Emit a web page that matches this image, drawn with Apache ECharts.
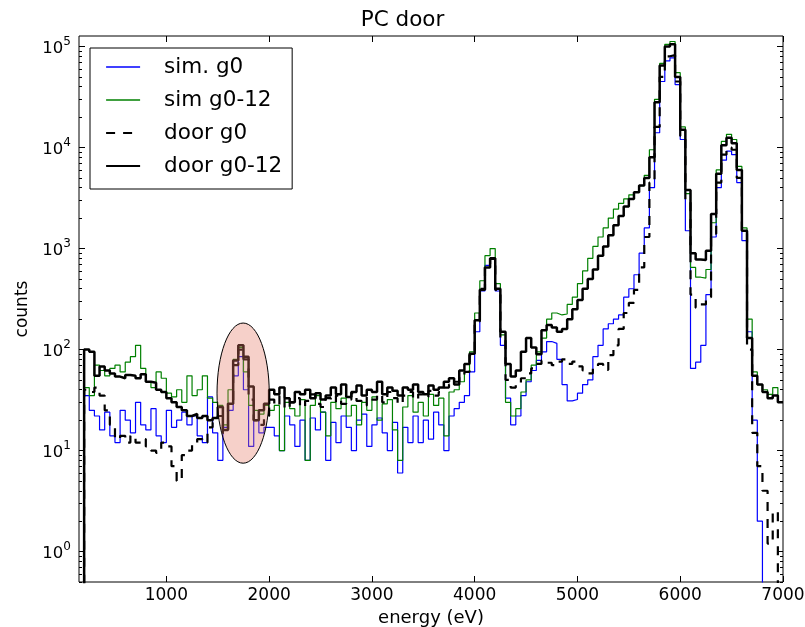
<!DOCTYPE html>
<html><head><meta charset="utf-8">
<script src="https://cdn.jsdelivr.net/npm/echarts@6/dist/echarts.min.js"></script>
<style>html,body{margin:0;padding:0;background:#fff}#c{width:805px;height:627px}</style>
</head><body><div id="c"></div>
<script>
// ---- data (counts per 50 eV bin, bin start energies in eV) ----
const binStart = [200,250,300,350,400,450,500,550,600,650,700,750,800,850,900,950,1000,1050,1100,1150,
1200,1250,1300,1350,1400,1450,1500,1550,1600,1650,1700,1750,1800,1850,1900,1950,2000,2050,2100,2150,
2200,2250,2300,2350,2400,2450,2500,2550,2600,2650,2700,2750,2800,2850,2900,2950,3000,3050,3100,3150,
3200,3250,3300,3350,3400,3450,3500,3550,3600,3650,3700,3750,3800,3850,3900,3950,4000,4050,4100,4150,
4200,4250,4300,4350,4400,4450,4500,4550,4600,4650,4700,4750,4800,4850,4900,4950,5000,5050,5100,5150,
5200,5250,5300,5350,5400,5450,5500,5550,5600,5650,5700,5750,5800,5850,5900,5950,6000,6050,6100,6150,
6200,6250,6300,6350,6400,6450,6500,6550,6600,6650,6700,6750,6800,6850,6900,6950];
const binEnd = 7000;

const simG0 = [35,25,22,16,24,14,12,25,20,15,
30,18,16,26,14,12,25,17,20,24,
18,22,14,12,34,15,8,17,25,55,
85,40,11,20,15,17,17,14,10,22,
18,11,20,8,21,16,24,8,19,12,
22,17,10,20,23,11,18,21,15,10,
19,6,17,12,22,12,20,13,24,18,
10,22,26,30,35,60,150,380,680,780,
380,110,33,18,22,35,48,62,78,95,
120,115,80,45,31,32,37,45,50,85,
110,160,180,200,220,330,400,550,900,1600,
4000,14000,45000,72000,77000,42000,12000,1500,65,75,
110,350,1300,4000,7500,9200,8500,4500,1200,150,
20,2,0,0,0,0];

const simG0_12 = [42,35,70,62,55,65,70,60,75,85,
110,65,48,42,60,52,37,34,40,30,
55,35,40,55,33,30,28,18,40,80,
105,60,28,25,23,28,25,28,10,30,
26,22,32,8,28,35,24,14,30,26,
33,22,28,18,30,25,34,20,29,32,
16,8,27,35,24,30,22,36,28,33,
14,38,40,48,60,95,230,480,850,1000,
450,140,30,22,26,38,50,70,95,130,
200,230,220,225,280,330,450,600,800,1050,
1300,1600,2000,2450,2800,3100,3400,3600,4200,5300,
9500,30000,68000,105000,112000,55000,16000,3500,650,520,
510,620,1800,6000,11500,13500,12000,6500,1600,200,
60,45,40,36,42,30];

const doorG0 = [40,38,42,35,25,18,13,14,12,14,
12,13,11,10,9.5,12,11,7,5,9,
10,12,13,12,17,19,22,15,30,70,
100,80,32,20,18,22,32,28,35,26,
30,33,27,31,36,29,27,33,30,35,
29,32,37,31,28,34,32,36,30,38,
33,29,35,38,32,36,34,39,35,38,
42,45,48,55,60,88,190,400,680,790,
390,130,50,42,45,52,58,65,72,78,
74,70,76,80,72,76,68,62,58,66,
72,63,88,110,160,230,290,390,650,1300,
4500,16000,50000,80000,82000,45000,13000,3000,350,260,
280,330,1400,4500,8500,10000,9500,5000,1500,100,
15,7,4,1.2,2.5,0];

const doorG0_12 = [100,95,55,68,62,58,54,52,56,55,
52,57,48,47,40,38,33,30,27,25,
22,23,21,22,20,21,27,16,29,78,
110,85,43,20,25,29,40,36,42,33,
30,38,36,40,33,37,32,35,42,36,
45,34,38,44,35,40,38,48,36,42,
39,35,42,40,45,38,36,44,40,42,
48,52,45,62,72,91,195,390,650,800,
400,150,72,54,62,95,130,105,90,155,
175,165,150,160,200,250,310,400,500,620,
850,1050,1350,1700,2100,2600,3100,3600,4200,5000,
8000,28000,65000,100000,105000,50000,15000,3800,900,780,
770,950,2200,5500,10500,12500,11000,6000,1500,130,
55,45,38,33,35,30];

const seriesNames = ['sim. g0','sim g0-12','door g0','door g0-12'];
const xTicks = [1000,2000,3000,4000,5000,6000,7000];
const yMajor = [1,10,100,1000,10000,100000];
const yMinor = [];
[0.1,1,10,100,1000,10000].forEach(d=>{for(let k=2;k<=9;k++){const v=k*d; if(v>=0.5 && v<=127000) yMinor.push(v);}});
// highlighted region (energy centre / half width in eV, counts top / bottom)
const ellipseSpec = [1747, 254, 183, 7.5];

// ---- chart ----
const FLOOR = 0.01; // zero-count bins are drawn below the axis floor
function stepData(vals){
  const d=[[binStart[0], FLOOR]];
  vals.forEach((v,i)=>d.push([binStart[i], v>0?v:FLOOR]));
  const last = vals[vals.length-1];
  d.push([binEnd, last>0?last:FLOOR]);
  return d;
}
const FONT='DejaVu Sans';
const chart = echarts.init(document.getElementById('c'), null, {renderer:'canvas'});
const yBase = {type:'log', logBase:10, min:0.5, max:127000, splitLine:{show:false}, axisLine:{show:false}};
const xBase = {type:'value', min:150, max:7000, splitLine:{show:false}, axisLine:{show:false}};
const styles = [
  {color:'#0000ff', width:1.2, type:'solid'},
  {color:'#008000', width:1.2, type:'solid'},
  {color:'#000000', width:2.2, type:[9,8]},
  {color:'#000000', width:2.5, type:'solid'}
];
const datas = [simG0, simG0_12, doorG0, doorG0_12];
const lineSeries = datas.map((vals,i)=>({
  type:'line', name:seriesNames[i], step:'end', symbol:'none', showSymbol:false,
  xAxisIndex:0, yAxisIndex:0, data:stepData(vals), clip:true,
  lineStyle:{color:styles[i].color, width:styles[i].width, type:styles[i].type},
  itemStyle:{color:styles[i].color}, z:2+i
}));
const option = {
  animation:false,
  backgroundColor:'#fff',
  title:{text:'PC door', left:'center', top:9, padding:0,
    textStyle:{fontFamily:FONT, fontSize:21.5, fontWeight:'normal', color:'#000'}},
  grid:{left:79, right:22, top:36, bottom:45, show:true, borderColor:'#000', borderWidth:1, backgroundColor:'transparent', outerBoundsMode:'none'},
  legend:{
    orient:'vertical', left:90, top:48, padding:[8,10,12,15], itemGap:11,
    itemWidth:34, itemHeight:14, backgroundColor:'#fff', borderColor:'#000', borderWidth:1, borderRadius:0,
    textStyle:{fontFamily:FONT, fontSize:21.5, color:'#000', padding:[0,0,0,19]},
    data:seriesNames.map((n,i)=>({name:n,
      itemStyle:{opacity:0, borderWidth:0},
      lineStyle:{color:styles[i].color, width:i<2?1.4:2.2, type:styles[i].type}}))
  },
  xAxis:[
    {...xBase, position:'bottom',
      axisTick:{inside:true, length:6, lineStyle:{color:'#000'}, customValues:xTicks},
      axisLabel:{customValues:xTicks, margin:5, fontFamily:FONT, fontSize:17, color:'#000', formatter:v=>String(v)},
      name:'energy (eV)', nameLocation:'middle', nameGap:24,
      nameTextStyle:{fontFamily:FONT, fontSize:18, color:'#000'}},
    {...xBase, position:'top',
      axisTick:{inside:true, length:6, lineStyle:{color:'#000'}, customValues:xTicks},
      axisLabel:{show:false}}
  ],
  yAxis:[
    {...yBase, position:'left',
      axisTick:{inside:true, length:6, lineStyle:{color:'#000'}, customValues:yMajor},
      axisLabel:{customValues:yMajor, margin:8,
        formatter:v=>'{b|10}{s|'+Math.round(Math.log10(v))+'}',
        rich:{b:{fontFamily:FONT, fontSize:16.5, color:'#000', verticalAlign:'bottom'},
              s:{fontFamily:FONT, fontSize:12, color:'#000', verticalAlign:'bottom', padding:[0,0,10,0]}}},
      name:'counts', nameLocation:'middle', nameGap:47,
      nameTextStyle:{fontFamily:FONT, fontSize:17, color:'#000'}},
    {...yBase, position:'left',
      axisTick:{inside:true, length:3, lineStyle:{color:'#000'}, customValues:yMinor}, axisLabel:{show:false}},
    {...yBase, position:'right',
      axisTick:{inside:true, length:6, lineStyle:{color:'#000'}, customValues:yMajor}, axisLabel:{show:false}},
    {...yBase, position:'right',
      axisTick:{inside:true, length:3, lineStyle:{color:'#000'}, customValues:yMinor}, axisLabel:{show:false}}
  ],
  series:[...lineSeries, {
    type:'custom', name:'region', xAxisIndex:0, yAxisIndex:0, silent:true, z:10,
    encode:{x:0, y:2},
    data:[ellipseSpec],
    renderItem:(params, api)=>{
      const c=api.value(0), hw=api.value(1), t=api.value(2), b=api.value(3);
      const p1=api.coord([c-hw, t]), p2=api.coord([c+hw, b]);
      return {type:'ellipse', shape:{cx:(p1[0]+p2[0])/2, cy:(p1[1]+p2[1])/2, rx:(p2[0]-p1[0])/2, ry:(p2[1]-p1[1])/2},
        style:{fill:'rgba(230,120,100,0.35)', stroke:'#000', lineWidth:1}};
    }
  }]
};
chart.setOption(option);
</script></body></html>
